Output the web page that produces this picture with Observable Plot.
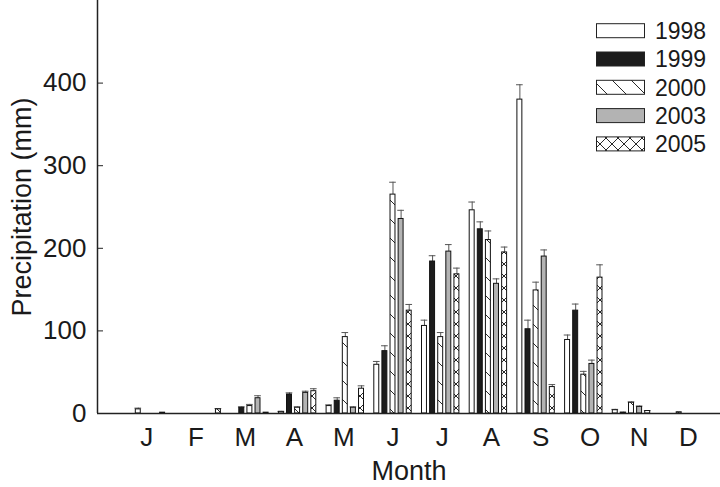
<!DOCTYPE html>
<html><head><meta charset="utf-8">
<script src="https://cdn.jsdelivr.net/npm/d3@7"></script>
<script src="https://cdn.jsdelivr.net/npm/@observablehq/plot@0.6"></script>
<style>
body{margin:0;background:#fff;font-family:"Liberation Sans",Arial,sans-serif;}
#wrap{position:relative;width:720px;height:487px;}
#legend{position:absolute;left:0;top:0;}
</style></head><body>
<svg width="0" height="0" style="position:absolute">
<defs>
<pattern id="hatch" patternUnits="userSpaceOnUse" width="19" height="19">
<rect width="19" height="19" fill="#fff"/>
<path d="M0,0L19,19M-5,14L5,24M14,-5L24,5" stroke="#111" stroke-width="0.9"/>
</pattern>
<pattern id="cross" patternUnits="userSpaceOnUse" width="12" height="12">
<rect width="12" height="12" fill="#fff"/>
<path d="M0,0L12,12M12,0L0,12" stroke="#111" stroke-width="0.9"/>
</pattern>
</defs></svg>
<div id="wrap"><div id="chart"></div><svg id="legend" width="720" height="170"></svg></div>
<script>
// ---- data ----
const months = ["J","F","M","A","M","J","J","A","S","O","N","D"];
const years = ["1998","1999","2000","2003","2005"];
const p1998 = [5, 0, 0, 2, 9, 59, 106, 246, 380, 89, 4, 0];
const e1998 = [1.5, 0, 0, 0.5, 1.5, 4, 7, 10, 18, 6, 1, 0];
const p1999 = [0, 0, 7, 23, 15.5, 75.5, 184, 223, 102, 124.5, 1, 0];
const e1999 = [0, 0, 1, 2, 3.5, 6.5, 7, 9, 11, 8, 0.5, 0];
const p2000 = [0, 0, 9, 7, 92.5, 265, 92.5, 210, 149, 47, 13, 1.5];
const e2000 = [0, 0, 2, 1, 5.5, 15, 5.5, 11, 10, 4, 1, 0];
const p2003 = [1, 0, 18.5, 25, 7, 235.5, 196, 157, 190, 60, 8, 0];
const e2003 = [0, 0, 3, 2, 1, 10.5, 8.5, 6, 8, 4.6, 1, 0];
const p2005 = [0, 5, 1, 27, 30, 124.5, 168.5, 195, 32, 164.5, 3, 0];
const e2005 = [0, 1, 0, 3, 3.5, 7.5, 7.5, 6.5, 3, 15.5, 0.5, 0];
const yTicks = [0, 100, 200, 300, 400];

// ---- styles / layout ----
const fills = ["#ffffff", "#1c1c1c", "url(#hatch)", "#b3b3b3", "url(#cross)"];
const groupStep = 0.17, halfW = 0.052, capHalf = 0.07, tickStretch = 1.0325;
const xDomain = [-0.195, 12.866];

const values = [p1998, p1999, p2000, p2003, p2005];
const errs = [e1998, e1999, e2000, e2003, e2005];
const rows = [];
values.forEach((vals, s) => vals.forEach((v, m) => rows.push({month: m + 1, s, year: years[s], value: v, err: errs[s][m]})));
const bars = rows.filter(d => d.value > 0);
const errBars = bars.filter(d => d.err > 0);
const cx = d => d.month + (d.s - 2) * groupStep;

const chart = Plot.plot({
  width: 720, height: 487,
  marginLeft: 97, marginRight: 0, marginTop: 0, marginBottom: 74,
  style: {fontFamily: "'Liberation Sans', Arial, sans-serif", fontSize: "26px", color: "#1a1a1a", background: "transparent", overflow: "visible"},
  x: {domain: xDomain, axis: null},
  y: {domain: [0, 500], axis: null},
  color: {domain: years, range: fills},
  marks: [
    Plot.ruleX(errBars, {x: cx, y1: "value", y2: d => d.value + d.err, stroke: "#555", strokeWidth: 1}),
    Plot.ruleY(errBars, {y: d => d.value + d.err, x1: d => cx(d) - capHalf, x2: d => cx(d) + capHalf, stroke: "#555", strokeWidth: 1}),
    Plot.rect(bars, {x1: d => cx(d) - halfW, x2: d => cx(d) + halfW, y1: 0, y2: "value", fill: "year", stroke: "#111", strokeWidth: 1}),
    Plot.ruleX([xDomain[0]], {stroke: "#222", strokeWidth: 1.5}),
    Plot.ruleY([0], {stroke: "#222", strokeWidth: 1.5}),
    Plot.axisY(yTicks, {tickSize: 6, dx: 6, tickPadding: 11, fontSize: 26, label: null, stroke: "#222"}),
    Plot.text(months, {x: (d, i) => 6 + (i + 1 - 6) * tickStretch, frameAnchor: "bottom", dy: 32, fontSize: 26}),
    Plot.text(["Month"], {frameAnchor: "bottom", dy: 66, fontSize: 27}),
    Plot.text(["Precipitation (mm)"], {frameAnchor: "left", textAnchor: "middle", dx: -75, rotate: -90, fontSize: 27})
  ]
});
document.getElementById("chart").appendChild(chart);

// ---- legend ----
const lg = d3.select("#legend");
years.forEach((y, i) => {
  const cy = 30.7 + i * 28.3;
  lg.append("rect").attr("x", 596.5).attr("y", cy - 7).attr("width", 48).attr("height", 14)
    .attr("fill", fills[i]).attr("stroke", "#222").attr("stroke-width", 1);
  lg.append("text").attr("x", 655).attr("y", cy).attr("dy", "0.36em")
    .attr("font-size", 23).attr("fill", "#1a1a1a").attr("font-family", "'Liberation Sans', Arial, sans-serif").text(y);
});
</script>
</body></html>
